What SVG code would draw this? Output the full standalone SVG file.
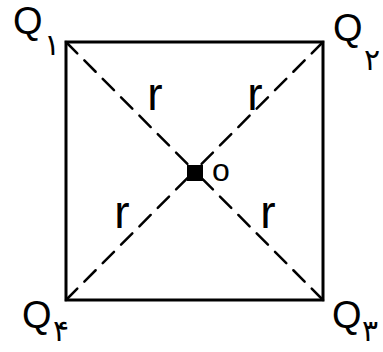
<svg xmlns="http://www.w3.org/2000/svg" width="383" height="352" viewBox="0 0 383 352">
<style>
.edge{stroke:#000;stroke-width:3;fill:none;stroke-linecap:square}
.diag{stroke:#000;stroke-width:2.5;fill:none;stroke-dasharray:16 10;stroke-linecap:round}
.q{font-family:"Liberation Sans",Arial,sans-serif;font-size:38px;fill:#000}
.d{font-family:"DejaVu Sans",sans-serif;font-size:30px;fill:#000;text-anchor:middle}
.r{font-family:"Liberation Sans",Arial,sans-serif;font-size:46px;fill:#000;text-anchor:middle}
.o{font-family:"Liberation Sans",Arial,sans-serif;font-size:32px;fill:#000;text-anchor:middle}
</style>
<rect width="383" height="352" fill="#fff"/>
<g id="connectors">
<rect class="edge" x="66" y="42" width="257" height="258"/>
<line class="diag" x1="66" y1="42" x2="194.5" y2="171"/>
<line class="diag" x1="323" y1="300" x2="194.5" y2="171"/>
<line class="diag" x1="323" y1="42" x2="194.5" y2="171"/>
<line class="diag" x1="66" y1="300" x2="194.5" y2="171"/>
<text class="r" x="155" y="110">r</text>
<text class="r" x="255" y="110">r</text>
<text class="r" x="122" y="228">r</text>
<text class="r" x="268" y="228">r</text>
</g>
<g id="Q1"><text class="q" x="13" y="34">Q</text><text class="d" x="52" y="55">۱</text></g>
<g id="Q2"><text class="q" x="333" y="41">Q</text><text class="d" x="372" y="70">۲</text></g>
<g id="Q3"><text class="q" x="332" y="328">Q</text><text class="d" x="370" y="341">۳</text></g>
<g id="Q4"><text class="q" x="22" y="328">Q</text><text class="d" x="61" y="341">۴</text></g>
<g id="O">
<rect x="187" y="165" width="16" height="16" fill="#000"/>
<text class="o" x="221" y="181">o</text>
</g>
</svg>
